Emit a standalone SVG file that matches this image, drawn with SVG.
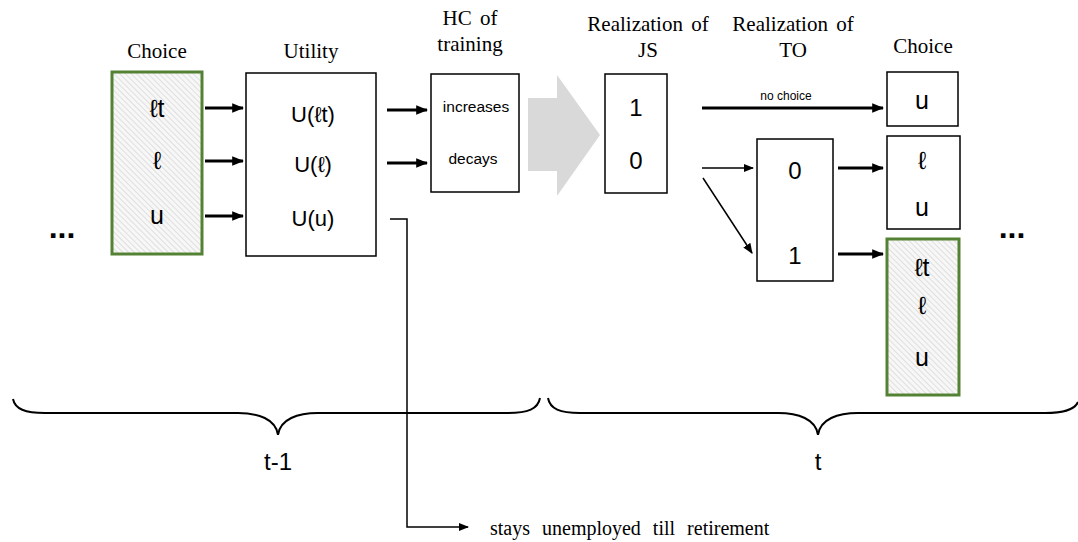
<svg xmlns="http://www.w3.org/2000/svg" width="1078" height="542" viewBox="0 0 1078 542">
<style>
.box{fill:#fff;stroke:#000;stroke-width:1.5}
.gbox{fill:url(#hatch);stroke:#548235;stroke-width:3}
.s{font-family:"Liberation Sans","DejaVu Sans",Arial,sans-serif;fill:#000;text-anchor:middle}
.h{font-family:"Liberation Serif","Times New Roman",serif;font-size:21px;fill:#000;text-anchor:middle;word-spacing:3px}
.big{font-size:22px}
.ch{font-size:25px}
.c{stroke:#000;fill:none}
.thick{stroke-width:3}
.thin{stroke-width:1.5}
</style>
<defs>
<pattern id="hatch" width="4" height="4" patternUnits="userSpaceOnUse" patternTransform="rotate(-45)">
<rect width="4" height="4" fill="#f7f7f7"/>
<line x1="0" y1="0" x2="0" y2="4" stroke="#c8c8c8" stroke-width="1"/>
</pattern>
<marker id="ah" viewBox="0 0 10 10" refX="9" refY="5" markerWidth="4" markerHeight="4" orient="auto" markerUnits="strokeWidth">
<path d="M0,1 L10,5 L0,9 Z" fill="#000"/>
</marker>
<marker id="ahs" viewBox="0 0 10 10" refX="9" refY="5" markerWidth="7" markerHeight="7" orient="auto" markerUnits="strokeWidth">
<path d="M0,1 L10,5 L0,9 Z" fill="#000"/>
</marker>
</defs>

<g id="headers">
<text class="h" x="157" y="58">Choice</text>
<text class="h" x="311" y="58">Utility</text>
<text class="h" x="470" y="25">HC of</text>
<text class="h" x="470" y="51">training</text>
<text class="h" x="648" y="31">Realization of</text>
<text class="h" x="648" y="57">JS</text>
<text class="h" x="793" y="31">Realization of</text>
<text class="h" x="793" y="57">TO</text>
<text class="h" x="923" y="53">Choice</text>
</g>

<g id="dots">
<text class="s" x="62" y="238" font-size="32" font-weight="bold">...</text>
<text class="s" x="1012" y="238" font-size="32" font-weight="bold">...</text>
</g>

<g id="choice-prev">
<rect class="gbox" x="112" y="72" width="90" height="182"/>
<text class="s ch" x="157" y="117">ℓt</text>
<text class="s ch" x="157" y="169">ℓ</text>
<text class="s ch" x="157" y="224">u</text>
</g>

<g id="utility">
<rect class="box" x="246" y="73" width="130" height="183"/>
<text class="s big" x="313" y="122">U(ℓt)</text>
<text class="s big" x="313" y="172">U(ℓ)</text>
<text class="s big" x="313" y="226">U(u)</text>
</g>

<g id="hc">
<rect class="box" x="431" y="74" width="88" height="118"/>
<text class="s" x="476" y="112" font-size="15.5">increases</text>
<text class="s" x="473" y="164" font-size="15.5">decays</text>
</g>

<g id="big-arrow">
<polygon points="528,98 557,98 557,75 600,135 557,196 557,171 528,171" fill="#d9d9d9"/>
</g>

<g id="js">
<rect class="box" x="605" y="74" width="62" height="119"/>
<text class="s" x="636" y="116" font-size="24">1</text>
<text class="s" x="636" y="169" font-size="24">0</text>
</g>

<g id="to">
<rect class="box" x="757" y="139" width="76" height="142"/>
<text class="s" x="795" y="179" font-size="24">0</text>
<text class="s" x="795" y="264" font-size="24">1</text>
</g>

<g id="choice-u">
<rect class="box" x="887" y="72" width="71" height="54"/>
<text class="s ch" x="922" y="109">u</text>
</g>

<g id="choice-lu">
<rect class="box" x="887" y="136" width="73" height="93"/>
<text class="s ch" x="922" y="169">ℓ</text>
<text class="s ch" x="922" y="216">u</text>
</g>

<g id="choice-next">
<rect class="gbox" x="887" y="239" width="72" height="156"/>
<text class="s ch" x="922" y="276">ℓt</text>
<text class="s ch" x="922" y="314">ℓ</text>
<text class="s ch" x="922" y="366">u</text>
</g>

<g id="connectors">
<line class="c thick" x1="205" y1="108" x2="243" y2="108" marker-end="url(#ah)"/>
<line class="c thick" x1="205" y1="161" x2="243" y2="161" marker-end="url(#ah)"/>
<line class="c thick" x1="205" y1="216" x2="243" y2="216" marker-end="url(#ah)"/>
<line class="c thick" x1="387" y1="110" x2="427" y2="110" marker-end="url(#ah)"/>
<line class="c thick" x1="387" y1="163" x2="427" y2="163" marker-end="url(#ah)"/>
<line class="c thick" x1="702" y1="108" x2="883" y2="108" marker-end="url(#ah)"/>
<text class="s" x="786" y="100" font-size="12">no choice</text>
<line class="c thin" x1="702" y1="168" x2="753" y2="168" marker-end="url(#ahs)"/>
<line class="c thin" x1="703" y1="178" x2="752" y2="253" marker-end="url(#ahs)"/>
<line class="c thick" x1="838" y1="168" x2="883" y2="168" marker-end="url(#ah)"/>
<line class="c thick" x1="838" y1="254" x2="883" y2="254" marker-end="url(#ah)"/>
<polyline class="c thin" points="390,219 407,219 407,527 468,527" marker-end="url(#ahs)"/>
</g>

<g id="braces">
<path class="c" stroke-width="2" d="M13,399 C15,409 25,413 45,413 L238,413 C258,413 276,419 278,435 C280,419 298,413 318,413 L508,413 C528,413 538,409 540,398"/>
<path class="c" stroke-width="2" d="M548,398 C550,409 560,413 580,413 L778,413 C798,413 816,419 818,435 C820,419 838,413 858,413 L1045,413 C1065,413 1075,409 1078,402"/>
<text class="s" x="278" y="470" font-size="24">t-1</text>
<text class="s" x="818" y="470" font-size="24">t</text>
</g>

<g id="note">
<text x="490" y="535" font-family="Liberation Serif,'Times New Roman',serif" font-size="20" word-spacing="7">stays unemployed till retirement</text>
</g>
</svg>
